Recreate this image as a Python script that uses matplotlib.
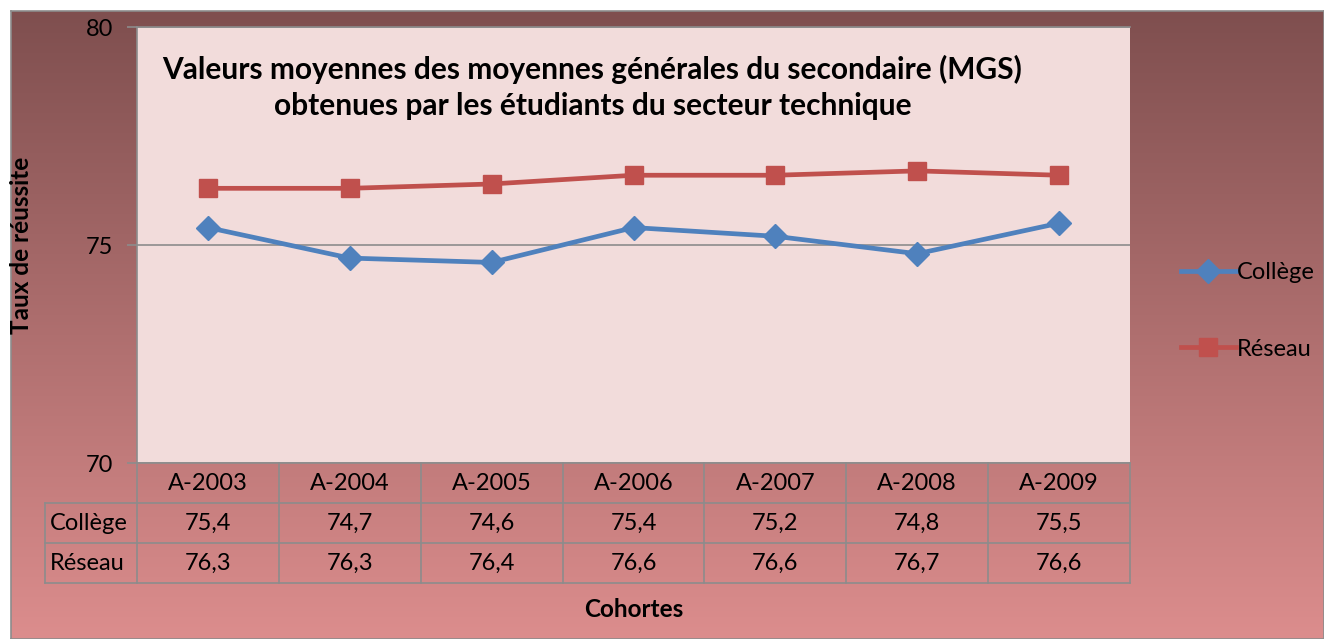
import matplotlib.pyplot as plt
import numpy as np
from matplotlib.transforms import blended_transform_factory

cohortes = ['A-2003', 'A-2004', 'A-2005', 'A-2006', 'A-2007', 'A-2008', 'A-2009']
college = [75.4, 74.7, 74.6, 75.4, 75.2, 74.8, 75.5]
reseau = [76.3, 76.3, 76.4, 76.6, 76.6, 76.7, 76.6]
series_names = ['Collège', 'Réseau']

plt.rcParams['font.family'] = ['Lato', 'DejaVu Sans']

W, H = 1324, 639
fig = plt.figure(figsize=(W / 100, H / 100), dpi=100)
fig.patch.set_facecolor('white')

# gradient background for the chart frame
bg = fig.add_axes([11 / W, 0, 1 - 11 / W, 1 - 11 / H])
top = np.array([127, 79, 79]) / 255
bot = np.array([220, 141, 141]) / 255
t = np.linspace(0, 1, 256)[:, None]
grad = top + (bot - top) * t
bg.imshow(grad[:, None, :], aspect='auto', extent=[0, 1, 0, 1])
bg.set_xlim(0, 1)
bg.set_ylim(0, 1)
bg.set_xticks([])
bg.set_yticks([])
for s in bg.spines.values():
    s.set_color('#8c8c8c')
    s.set_linewidth(1.2)
bg.set_zorder(0)

ax = fig.add_axes([137 / W, 1 - 463 / H, (1130 - 137) / W, (463 - 27) / H])
ax.set_zorder(1)
ax.set_facecolor('#f2dcdb')
x = np.arange(len(cohortes))
ax.plot(x, college, color='#4f81bd', lw=3.4, marker='D', ms=12, label=series_names[0])
ax.plot(x, reseau, color='#c0504d', lw=3.4, marker='s', ms=12.5, label=series_names[1])
ax.set_xlim(-0.5, len(cohortes) - 0.5)
ax.set_ylim(70, 80)
ax.set_yticks([70, 75, 80])
ax.set_xticks([])
ax.grid(axis='y', color='#8c8c8c', lw=1.2)
ax.tick_params(axis='y', length=7, width=1.2, color='#8c8c8c', labelsize=17, pad=10)
ax.spines['right'].set_visible(False)
for side in ['left', 'top', 'bottom']:
    ax.spines[side].set_color('#8c8c8c')
    ax.spines[side].set_linewidth(1.2)

ax.text(2.71, 78.62, 'Valeurs moyennes des moyennes générales du secondaire (MGS)\n'
        'obtenues par les étudiants du secteur technique',
        ha='center', va='center', fontsize=21.5, fontweight='bold', linespacing=1.33)

ax.set_ylabel('Taux de réussite', fontsize=17.5, fontweight='bold')
ax.yaxis.set_label_coords(-0.1047, 0.5)

# data table below the axis
tr = blended_transform_factory(ax.transData, ax.transAxes)
rh = 40 / 436
lab_w = 92 / ((1130 - 137) / 7)
lc = '#8c8c8c'
for k in range(len(cohortes) + 1):
    ax.plot([k - 0.5, k - 0.5], [0, -3 * rh], color=lc, lw=1.2, transform=tr, clip_on=False)
ax.plot([-0.5 - lab_w] * 2, [-rh, -3 * rh], color=lc, lw=1.2, transform=tr, clip_on=False)
for r in range(1, 4):
    ax.plot([-0.5 - lab_w, len(cohortes) - 0.5], [-r * rh] * 2, color=lc, lw=1.2,
            transform=tr, clip_on=False)
for i, c in enumerate(cohortes):
    ax.text(i, -0.5 * rh, c, ha='center', va='center', fontsize=17, transform=tr)
for r, (name, vals) in enumerate(zip(series_names, [college, reseau])):
    yy = -(r + 1.5) * rh
    ax.text(-0.5 - lab_w + 0.035, yy, name, ha='left', va='center', fontsize=17, transform=tr)
    for i, v in enumerate(vals):
        ax.text(i, yy, f'{v:.1f}'.replace('.', ','), ha='center', va='center',
                fontsize=17, transform=tr)

ax.text(3, -3 * rh - 0.06, 'Cohortes', ha='center', va='center', fontsize=17.5,
        fontweight='bold', transform=tr)

fig.legend(loc='center left', bbox_to_anchor=(1160 / W, 1 - 311 / H), frameon=False,
           fontsize=17, handlelength=2.3, labelspacing=2.35, handletextpad=0.05)

fig.savefig('out.png', dpi=100)
